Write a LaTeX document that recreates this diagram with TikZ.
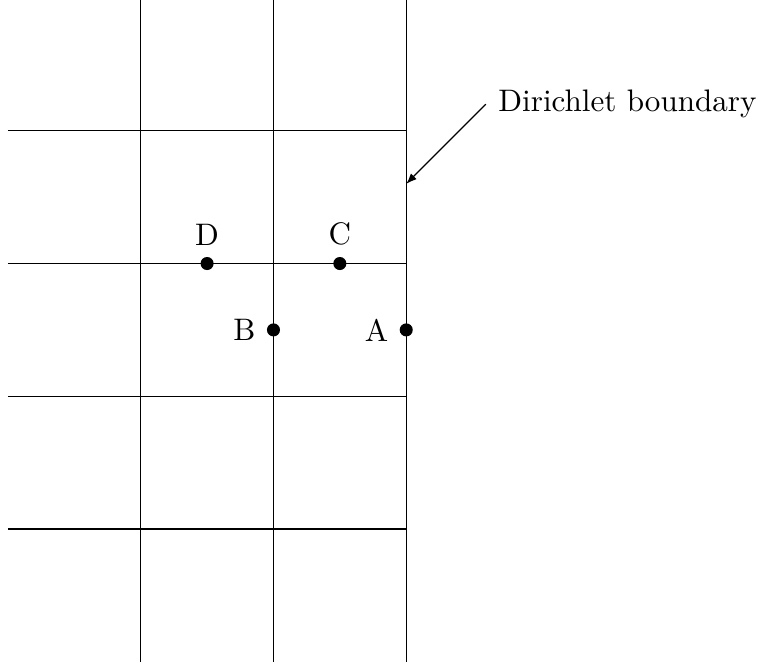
\documentclass[tikz,border=0pt]{standalone}
\usetikzlibrary{
  arrows.meta,
  positioning
}
\tikzset{
  >={Latex[length=3.4pt,width=2.6pt]},
  gridline/.style={draw=black,thin},
  pointer/.style={->,thin,draw=black},
  meshpoint/.style={circle,fill=black,inner sep=0pt,minimum size=4.2pt},
  ptlabel/.style={font=\normalsize,inner sep=3.33pt}
}
\begin{document}
\begin{tikzpicture}[x=1.5cm,y=1.5cm]
  \useasboundingbox (-0.06,-0.03) rectangle (5.68,4.985);

  % mesh lines
  \draw[gridline] (1,0) -- (1,5);
  \draw[gridline] (2,0) -- (2,5);
  \draw[gridline] (3,0) -- (3,5);
  \draw[gridline] (0,1) -- (3,1);
  \draw[gridline] (0,2) -- (3,2);
  \draw[gridline] (0,3) -- (3,3);
  \draw[gridline] (0,4) -- (3,4);

  \node[meshpoint,label={[ptlabel]left:A}] (A) at (3,2.5) {};
  \node[meshpoint,label={[ptlabel]left:B}] (B) at (2,2.5) {};
  \node[meshpoint,label={[ptlabel]above:C}] (C) at (2.5,3) {};
  \node[meshpoint,label={[ptlabel]above:D}] (D) at (1.5,3) {};

  \coordinate (tip) at (3,3.6);
  \coordinate (tail) at (3.6,4.2);
  \node[right=0.5pt of tail] (dirichlet) {Dirichlet boundary};
  \draw[pointer] (tail) -- (tip);
\end{tikzpicture}
\end{document}
